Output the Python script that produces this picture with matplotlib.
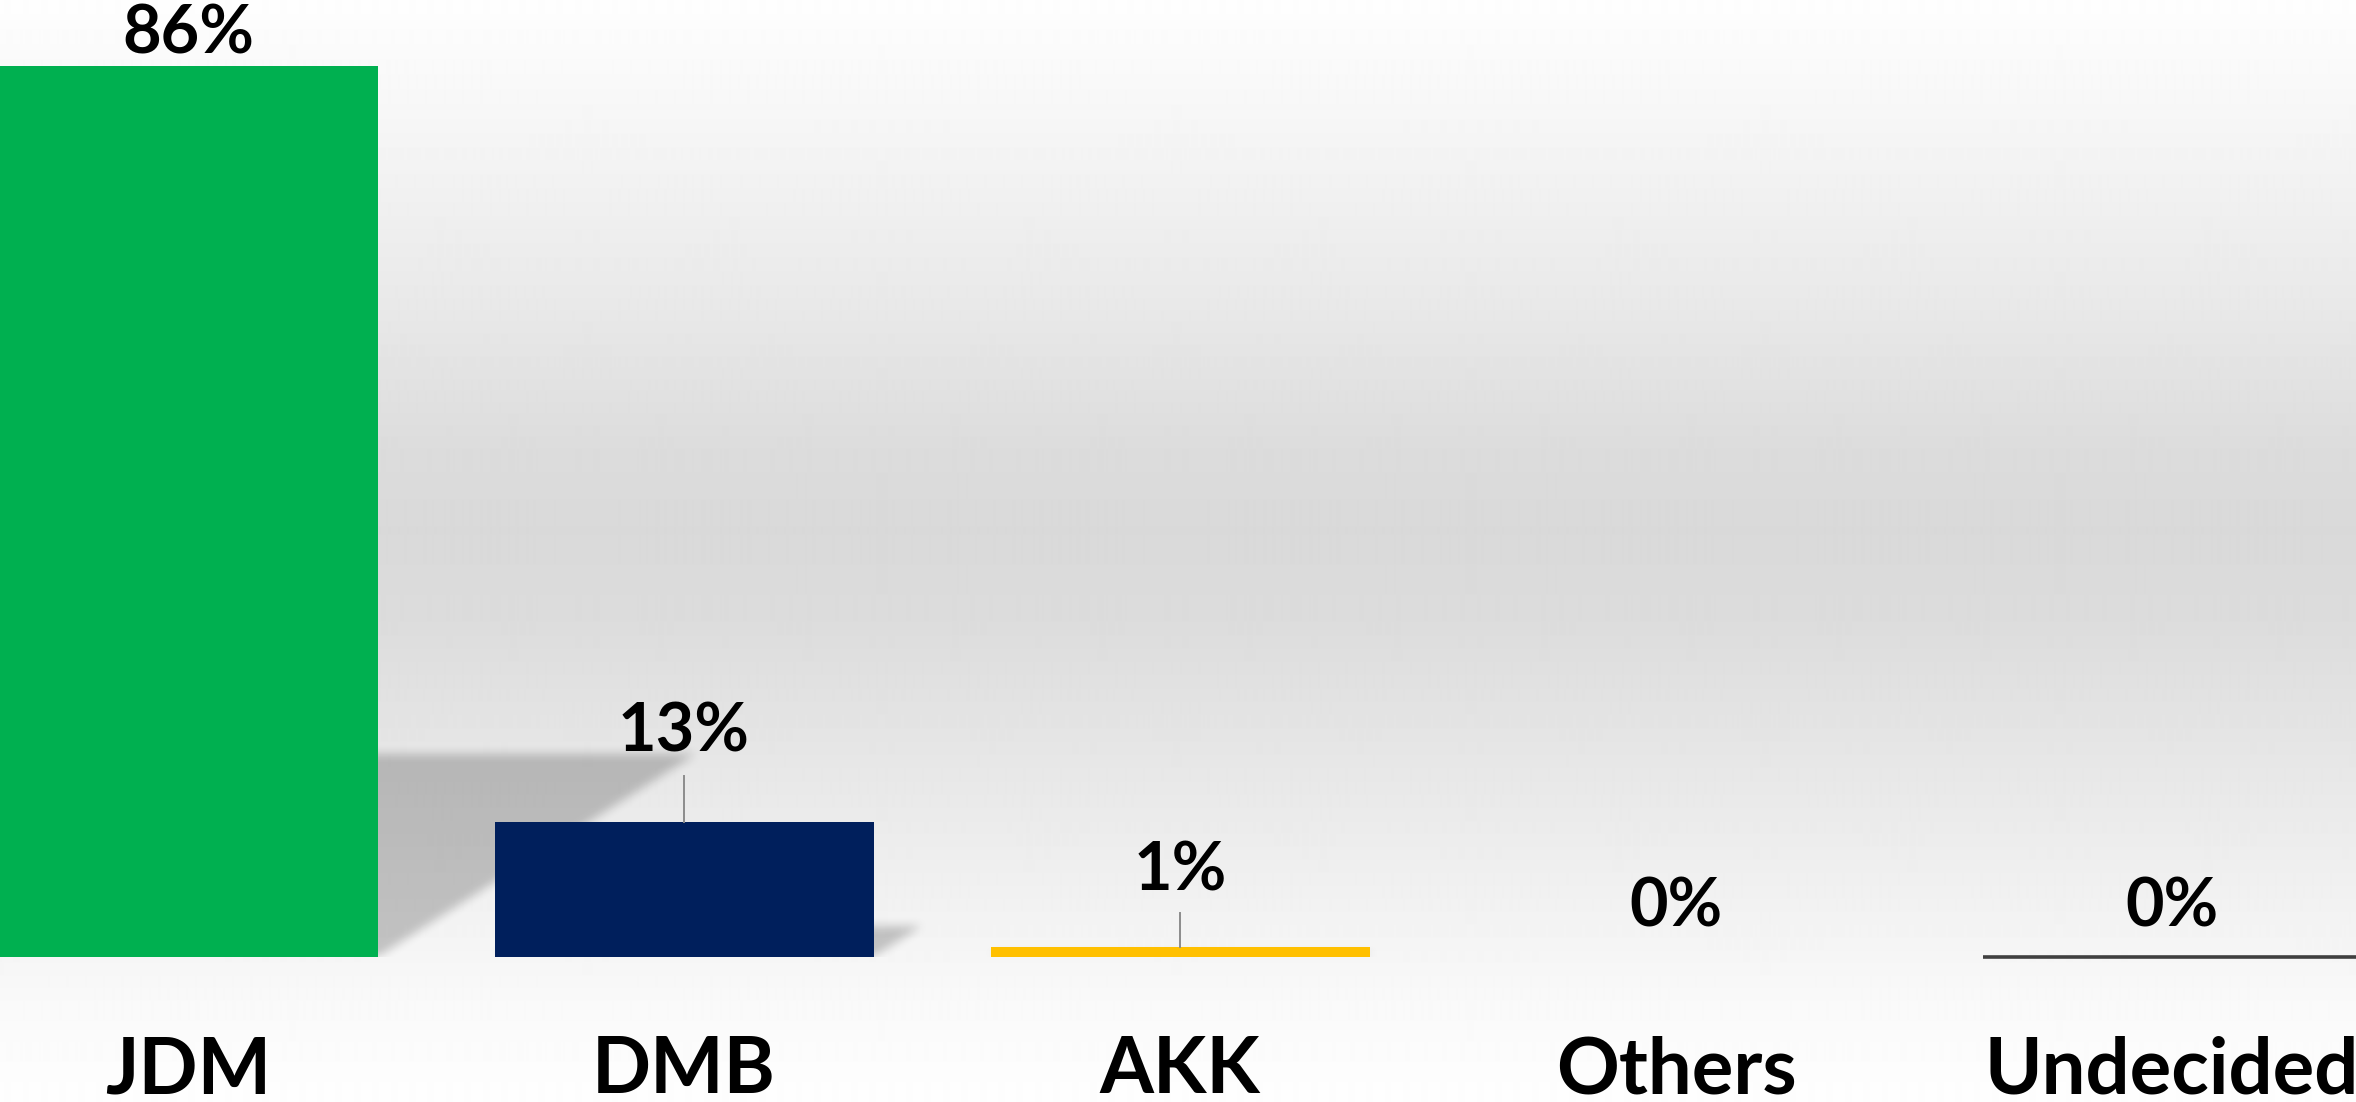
import numpy as np
import matplotlib
matplotlib.use("Agg")
import matplotlib.pyplot as plt

# poll shares
parties = ["JDM", "DMB", "AKK", "Others", "Undecided"]
shares = [86, 13, 1, 0, 0]
share_labels = ["86%", "13%", "1%", "0%", "0%"]

colors = ["#00B050", "#001F5C", "#FFC000", "#F4F4F4", "#F4F4F4"]
edges = ["none", "none", "none", "none", "#404040"]
label_gap = [1.25, 6.8, 5.4, 2.9, 2.9]     # baseline of value label above bar
leader_len = [0, 4.5, 3.2, 0, 0]           # leader line length

W, H, DPI = 23.56, 11.02, 100
px_per_unit = 10.36
base_px = 957           # bar baseline from the top, in pixels
spacing_px = 496
first_px = 188

plt.rcParams["font.family"] = ["Lato", "DejaVu Sans"]
plt.rcParams["font.weight"] = "bold"

fig = plt.figure(figsize=(W, H), dpi=DPI)

# background: vertical grey gradient
bg = fig.add_axes([0, 0, 1, 1])
stops_y = [0, 120, 300, 450, 530, 620, 700, 820, 950, 1000, 1102]
stops_v = [254, 246, 233, 220, 217, 220, 226, 235, 245, 249, 254]
rows = np.interp(np.arange(1102), stops_y, stops_v) / 255.0
grad = np.repeat(rows[:, None], 4, axis=1)
bg.imshow(grad, cmap="gray", vmin=0, vmax=1, aspect="auto",
          extent=(0, 1, 0, 1), interpolation="bilinear")
bg.set_axis_off()

ax = fig.add_axes([0, 1 - base_px / (H * DPI), 1, base_px / (H * DPI)])
ax.patch.set_alpha(0)
x = np.arange(len(parties))
xmin = -first_px / spacing_px
xmax = (W * DPI - first_px) / spacing_px
ymax = base_px / px_per_unit
bw = 379 / spacing_px
ax.set_xlim(xmin, xmax)
ax.set_ylim(0, ymax)

# perspective shadow cast to the right of each bar
ny, nx = base_px, int(W * DPI)
gx = np.linspace(xmin, xmax, nx)
gy = np.linspace(ymax, 0, ny)
X, Y = np.meshgrid(gx, gy)
mask = np.zeros_like(X)
shear = (317 / spacing_px) / 86.0
for xi, v in zip(x, shares):
    if v <= 0:
        continue
    h = 0.227 * v
    s = shear * v
    t = np.clip(Y / h, 0, 1)
    inside = (Y >= 0) & (Y <= h) & (X >= xi - bw / 2 + s * t) & (X <= xi + bw / 2 + s * t)
    mask[inside] = 1.0


def box_blur(a, r):
    k = np.ones(2 * r + 1) / (2 * r + 1)
    a = np.apply_along_axis(lambda m: np.convolve(m, k, mode="same"), 0, a)
    a = np.apply_along_axis(lambda m: np.convolve(m, k, mode="same"), 1, a)
    return a


mask = box_blur(box_blur(mask, 5), 5)
shadow = np.zeros((ny, nx, 4))
shadow[..., 3] = 0.21 * mask
ax.imshow(shadow, extent=(xmin, xmax, 0, ymax), aspect="auto",
          interpolation="bilinear", zorder=1)

ax.bar(x, shares, width=bw, color=colors, edgecolor=edges,
       linewidth=2.6, zorder=2, clip_on=False)

for xi, v, lab, gap, ll in zip(x, shares, share_labels, label_gap, leader_len):
    ax.text(xi, v + gap, lab, ha="center", va="baseline", fontsize=48,
            fontweight="bold", color="black", zorder=4)
    if ll > 0:
        ax.plot([xi, xi], [v, v + ll], color="#8C8C8C", lw=1.4, zorder=3)

# party names under the bars
for xi, name in zip(x, parties):
    ax.annotate(name, (xi, 0), xytext=(0, -98), textcoords="offset points",
                ha="center", va="baseline", fontsize=56, fontweight="bold",
                color="black", annotation_clip=False)

ax.set_xticks([])
ax.set_yticks([])
for sp in ax.spines.values():
    sp.set_visible(False)

fig.savefig("out.png", dpi=DPI)
